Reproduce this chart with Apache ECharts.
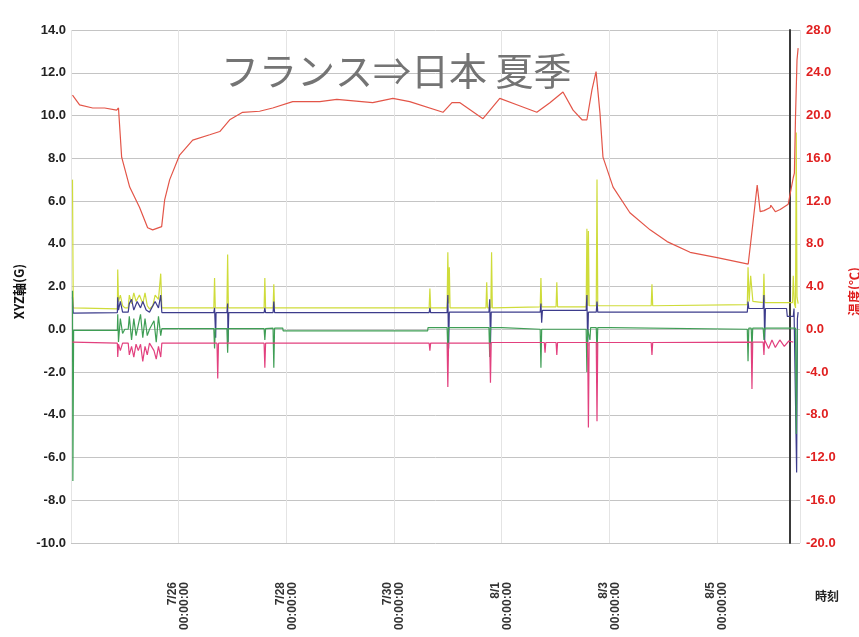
<!DOCTYPE html>
<html><head><meta charset="utf-8">
<script src="https://cdn.jsdelivr.net/npm/echarts@6/dist/echarts.min.js"></script>
<style>html,body{margin:0;padding:0;background:#fff}#c{width:859px;height:637px}</style>
</head><body><div id="c"></div>
<script>
// ---- data (time 'MM-DD HH:mm', value) ----
const titleText = 'フランス⇒日本 夏季';
const leftAxisName = 'XYZ軸(G)';
const rightAxisName = '温度(℃)';
const xAxisName = '時刻';
const xStart = '07-24 00:00', xEnd = '08-06 13:00';

const tempData = [
 ['07-24 00:40',21.9],['07-24 03:50',21.0],['07-24 09:40',20.7],['07-24 15:00',20.7],['07-24 20:20',20.5],
 ['07-24 21:10',20.7],['07-24 22:35',16.1],['07-25 02:10',13.3],['07-25 06:35',11.4],['07-25 10:10',9.5],
 ['07-25 12:25',9.3],['07-25 16:25',9.6],['07-25 17:45',12.1],['07-25 20:00',14.0],['07-26 00:25',16.3],
 ['07-26 06:15',17.7],['07-26 13:50',18.2],['07-26 18:20',18.5],['07-26 22:45',19.6],['07-27 04:30',20.3],
 ['07-27 12:05',20.4],['07-27 17:55',20.7],['07-28 02:50',21.3],['07-28 14:55',21.3],['07-28 22:30',21.5],
 ['07-29 14:30',21.2],['07-29 23:30',21.6],['07-30 07:00',21.3],['07-30 21:50',20.3],['07-31 01:50',21.2],
 ['07-31 05:25',21.2],['07-31 15:40',19.7],['07-31 23:10',21.6],['08-01 06:45',21.0],['08-01 15:40',20.3],
 ['08-01 21:30',21.2],['08-02 03:20',22.2],['08-02 07:50',20.5],['08-02 11:50',19.6],['08-02 14:00',19.6],
 ['08-02 16:15',22.4],['08-02 18:05',24.1],['08-02 19:50',20.2],['08-02 21:10',16.1],['08-03 01:40',13.3],
 ['08-03 09:10',10.9],['08-03 18:10',9.3],['08-04 01:45',8.2],['08-04 12:00',7.2],['08-05 00:05',6.7],
 ['08-05 13:55',6.1],['08-05 15:40',9.3],['08-05 17:55',13.5],['08-05 19:15',11.0],['08-05 21:00',11.1],
 ['08-05 23:45',11.4],['08-06 00:00',11.6],['08-06 02:00',11.0],['08-06 04:10',11.2],['08-06 07:45',11.7],
 ['08-06 10:00',14.2],['08-06 10:30',14.6],['08-06 11:00',19.9],['08-06 11:40',25.2],['08-06 12:10',26.3]
];

const yellowData = [
 ['07-24 00:40',7.0],['07-24 01:00',1.0],['07-24 20:40',0.95],['07-24 20:50',2.8],['07-24 21:10',1.3],
 ['07-24 22:00',1.6],['07-24 23:00',1.1],['07-25 00:00',1.0],['07-25 01:30',1.0],['07-25 02:00',1.6],
 ['07-25 03:00',1.2],['07-25 04:00',1.7],['07-25 05:00',1.3],['07-25 06:30',1.6],['07-25 08:00',1.2],
 ['07-25 09:00',1.7],['07-25 10:00',1.1],['07-25 11:00',0.95],['07-25 12:30',1.1],['07-25 13:30',1.6],
 ['07-25 15:00',1.4],['07-25 16:00',2.6],['07-25 16:30',1.0],['07-26 15:40',1.0],['07-26 16:00',2.4],
 ['07-26 16:20',1.0],['07-26 21:30',1.0],['07-26 21:50',3.5],['07-26 22:10',1.0],['07-27 14:05',1.0],
 ['07-27 14:25',2.4],['07-27 14:45',1.0],['07-27 18:05',1.0],['07-27 18:25',2.1],['07-27 18:45',1.0],
 ['07-30 15:40',1.0],['07-30 16:00',1.9],['07-30 16:20',1.0],['07-30 23:40',1.0],['07-31 00:00',3.6],
 ['07-31 00:20',1.2],['07-31 00:40',2.9],['07-31 01:00',1.0],['07-31 17:00',1.0],['07-31 17:20',2.2],
 ['07-31 17:40',1.0],['07-31 19:10',1.0],['07-31 19:30',3.6],['07-31 19:50',1.0],['08-01 17:10',1.05],
 ['08-01 17:30',2.4],['08-01 17:50',1.05],['08-02 00:15',1.05],['08-02 00:35',2.2],['08-02 00:55',1.05],
 ['08-02 13:40',1.05],['08-02 14:00',4.7],['08-02 14:20',1.1],['08-02 14:40',4.6],['08-02 15:00',1.1],
 ['08-02 18:10',1.1],['08-02 18:30',7.0],['08-02 18:50',1.1],['08-03 18:40',1.1],['08-03 19:00',2.1],
 ['08-03 19:20',1.1],['08-05 13:30',1.15],['08-05 13:50',2.9],['08-05 14:20',1.3],['08-05 15:00',2.5],
 ['08-05 16:00',1.3],['08-05 20:35',1.25],['08-05 20:55',2.6],['08-05 21:15',1.25],['08-06 09:40',1.25],
 ['08-06 10:00',2.5],['08-06 10:30',1.2],['08-06 11:00',1.0],['08-06 11:20',9.2],['08-06 11:40',1.5],
 ['08-06 12:10',1.2]
];

const navyData = [
 ['07-24 00:40',1.5],['07-24 01:00',0.75],['07-24 20:40',0.78],['07-24 20:50',1.5],['07-24 21:10',0.9],
 ['07-24 22:00',1.3],['07-24 23:00',0.8],['07-25 01:30',0.8],['07-25 02:00',1.2],['07-25 03:00',1.4],
 ['07-25 04:00',0.9],['07-25 05:30',1.3],['07-25 07:00',1.0],['07-25 08:00',1.3],['07-25 09:30',0.9],
 ['07-25 11:00',0.8],['07-25 13:30',1.3],['07-25 15:00',1.0],['07-25 16:00',1.6],['07-25 16:30',0.78],
 ['07-26 15:40',0.78],['07-26 16:00',1.0],['07-26 16:30',-0.4],['07-26 16:40',0.78],['07-26 21:30',0.78],
 ['07-26 21:50',1.2],['07-26 22:00',-0.6],['07-26 22:20',0.78],['07-27 14:05',0.78],['07-27 14:25',1.0],
 ['07-27 14:45',0.78],['07-27 18:05',0.78],['07-27 18:25',1.3],['07-27 18:45',0.78],['07-30 15:40',0.78],
 ['07-30 16:00',1.0],['07-30 16:20',0.78],['07-30 23:40',0.78],['07-31 00:00',1.6],['07-31 00:20',-0.9],
 ['07-31 00:40',0.8],['07-31 18:20',0.8],['07-31 18:40',1.4],['07-31 19:00',-0.7],['07-31 19:20',0.8],
 ['08-01 17:10',0.8],['08-01 17:30',1.2],['08-01 17:50',0.3],['08-01 18:10',0.88],['08-02 13:40',0.88],
 ['08-02 14:00',1.6],['08-02 14:20',-0.8],['08-02 14:40',0.8],['08-02 18:10',0.8],['08-02 18:30',1.3],
 ['08-02 18:50',0.8],['08-05 13:30',0.8],['08-05 13:50',1.3],['08-05 14:10',0.97],['08-05 20:35',0.97],
 ['08-05 20:55',1.6],['08-05 21:15',-0.5],['08-05 21:35',0.97],['08-06 07:00',0.97],['08-06 07:20',0.6],
 ['08-06 10:00',0.6],['08-06 10:20',0.97],['08-06 11:10',0.9],['08-06 11:30',-6.7],['08-06 11:50',0.5],
 ['08-06 12:10',0.8]
];

const greenData = [
 ['07-24 00:40',1.8],['07-24 00:50',-7.1],['07-24 01:10',-0.05],['07-24 20:40',-0.05],['07-24 20:50',0.7],
 ['07-24 21:10',-0.6],['07-24 22:00',0.5],['07-24 23:00',-0.2],['07-25 00:00',0.0],['07-25 01:30',0.0],
 ['07-25 02:00',0.6],['07-25 03:00',-0.5],['07-25 04:00',0.5],['07-25 05:00',-0.3],['07-25 06:00',0.2],
 ['07-25 07:00',0.7],['07-25 08:00',-0.4],['07-25 09:00',0.5],['07-25 10:00',-0.3],['07-25 11:00',0.0],
 ['07-25 13:00',0.4],['07-25 14:00',-0.6],['07-25 15:00',0.6],['07-25 16:00',-0.3],['07-25 16:30',0.03],
 ['07-26 15:40',0.03],['07-26 16:00',-0.9],['07-26 16:20',0.03],['07-26 21:30',0.03],['07-26 21:50',-1.1],
 ['07-26 22:10',0.03],['07-27 14:05',0.03],['07-27 14:25',-0.5],['07-27 14:45',0.03],['07-27 18:05',0.05],
 ['07-27 18:25',-1.8],['07-27 18:45',0.05],['07-27 22:25',0.05],['07-27 22:35',-0.08],['07-30 15:00',-0.08],
 ['07-30 15:10',0.08],['07-30 23:40',0.08],['07-31 00:00',-1.0],['07-31 00:20',0.08],['07-31 18:20',0.08],
 ['07-31 18:40',-1.3],['07-31 19:00',0.08],['08-01 00:00',0.08],['08-01 00:10',0.0],['08-01 17:10',0.0],
 ['08-01 17:30',-1.8],['08-01 17:50',0.0],['08-02 13:40',0.0],['08-02 14:00',-2.0],['08-02 14:20',0.0],
 ['08-02 15:20',-0.5],['08-02 15:40',0.08],['08-02 18:10',0.08],['08-02 18:30',-1.2],['08-02 18:50',0.08],
 ['08-03 00:00',0.08],['08-03 00:10',0.0],['08-05 13:30',0.0],['08-05 13:50',-1.5],['08-05 14:10',0.05],
 ['08-05 15:15',0.05],['08-05 15:35',-1.0],['08-05 15:55',0.05],['08-05 20:35',0.05],['08-05 20:55',-0.5],
 ['08-05 21:15',0.05],['08-06 11:00',0.05],['08-06 11:20',-4.9],['08-06 11:50',0.0],['08-06 12:10',0.0]
];

const magentaData = [
 ['07-24 00:40',-0.6],['07-24 20:40',-0.65],['07-24 20:50',-1.3],['07-24 21:10',-0.7],['07-24 22:00',-1.0],
 ['07-24 23:00',-0.65],['07-25 01:30',-0.65],['07-25 02:00',-1.2],['07-25 03:00',-0.8],['07-25 04:00',-1.3],
 ['07-25 05:00',-0.7],['07-25 06:00',-1.0],['07-25 07:00',-0.7],['07-25 08:00',-1.5],['07-25 09:00',-0.8],
 ['07-25 10:00',-1.2],['07-25 11:00',-0.65],['07-25 13:00',-1.0],['07-25 14:00',-1.4],['07-25 15:00',-0.8],
 ['07-25 16:00',-1.3],['07-25 16:30',-0.65],['07-26 17:05',-0.65],['07-26 17:25',-2.3],['07-26 17:45',-0.65],
 ['07-27 14:05',-0.65],['07-27 14:25',-1.8],['07-27 14:45',-0.65],['07-30 15:40',-0.65],['07-30 16:00',-1.0],
 ['07-30 16:20',-0.65],['07-30 23:40',-0.65],['07-31 00:00',-2.7],['07-31 00:20',-0.65],['07-31 18:40',-0.65],
 ['07-31 19:00',-2.5],['07-31 19:20',-0.62],['08-01 19:00',-0.62],['08-01 19:20',-1.1],['08-01 19:40',-0.62],
 ['08-02 00:15',-0.62],['08-02 00:35',-1.2],['08-02 00:55',-0.62],['08-02 14:20',-0.62],['08-02 14:40',-4.6],
 ['08-02 15:00',-0.62],['08-02 18:10',-0.62],['08-02 18:30',-4.3],['08-02 18:50',-0.62],['08-03 18:40',-0.62],
 ['08-03 19:00',-1.2],['08-03 19:20',-0.62],['08-05 15:15',-0.6],['08-05 15:35',-2.8],['08-05 15:55',-0.6],
 ['08-05 20:35',-0.6],['08-05 20:55',-1.2],['08-05 21:15',-0.5],['08-05 23:00',-0.9],['08-06 00:30',-0.5],
 ['08-06 02:00',-0.85],['08-06 04:00',-0.5],['08-06 06:00',-0.8],['08-06 08:00',-0.55],['08-06 10:00',-0.6]
];

// ---- helpers ----
function t(s){const m=s.match(/(\d+)-(\d+) (\d+):(\d+)/);return Date.UTC(2016,+m[1]-1,+m[2],+m[3],+m[4]);}
const conv = arr => arr.map(p => [t(p[0]), p[1]]);
const DAY = 86400000;

const chart = echarts.init(document.getElementById('c'), null, {renderer:'canvas'});
const lineBase = {type:'line', showSymbol:false, symbol:'none', animation:false};
chart.setOption({
  backgroundColor:'#ffffff',
  animation:false,
  title:[
    {text:titleText, left:216, top:47, textStyle:{fontFamily:'Noto Sans CJK JP', fontSize:38, fontWeight:'normal', color:'#747474'}},
    {text:xAxisName, left:810, top:585, textStyle:{fontFamily:'Noto Sans CJK JP', fontSize:12, fontWeight:'bold', color:'#222'}}
  ],
  grid:{left:71, right:59, top:30, bottom:94, containLabel:false, outerBoundsMode:'none'},
  xAxis:{
    type:'value', min:t(xStart), max:t(xEnd), interval:2*DAY,
    axisLine:{show:false},
    axisTick:{show:true, length:22, lineStyle:{color:'#e2e2e2'}},
    splitLine:{show:true, lineStyle:{color:'#e4e4e4', width:1}},
    axisLabel:{
      rotate:90, margin:39, fontSize:12, fontWeight:'bold', color:'#333', lineHeight:12,
      fontFamily:'Liberation Sans', showMinLabel:false, showMaxLabel:false,
      formatter:v=>{const d=new Date(v);return (d.getUTCMonth()+1)+'/'+d.getUTCDate()+'\n00:00:00';}
    }
  },
  yAxis:[
    {type:'value', min:-10, max:14, interval:2, position:'left',
     name:leftAxisName, nameLocation:'middle', nameGap:44, nameRotate:90,
     nameTextStyle:{fontFamily:'Noto Sans CJK JP', fontSize:13, fontWeight:'bold', color:'#111', padding:[0,10,0,0]},
     axisLine:{show:false}, axisTick:{show:false},
     axisLabel:{formatter:v=>v.toFixed(1), fontSize:13, fontWeight:'bold', color:'#222', margin:5, fontFamily:'Liberation Sans'},
     splitLine:{lineStyle:{color:'#c4c4c4', width:1}}
    },
    {type:'value', min:-20, max:28, interval:4, position:'right', offset:-10,
     name:rightAxisName, nameLocation:'middle', nameGap:58, nameRotate:90,
     nameTextStyle:{fontFamily:'Noto Sans CJK JP', fontSize:13, fontWeight:'bold', color:'#e02020', padding:[0,10,0,0]},
     axisLine:{show:true, lineStyle:{color:'#3a3a3a', width:2}}, axisTick:{show:false},
     axisLabel:{formatter:v=>v.toFixed(1), fontSize:13, fontWeight:'bold', color:'#e02020', margin:16, fontFamily:'Liberation Sans'},
     splitLine:{show:false}
    }
  ],
  series:[
    Object.assign({}, lineBase, {name:'Y', yAxisIndex:0, data:conv(yellowData), lineStyle:{color:'#cfdc3a', width:1.2}, z:2}),
    Object.assign({}, lineBase, {name:'Z', yAxisIndex:0, data:conv(navyData), lineStyle:{color:'#3d3c8c', width:1.2}, z:3}),
    Object.assign({}, lineBase, {name:'X', yAxisIndex:0, data:conv(greenData), lineStyle:{color:'#3f9e55', width:1.2}, z:4}),
    Object.assign({}, lineBase, {name:'M', yAxisIndex:0, data:conv(magentaData), lineStyle:{color:'#e2407e', width:1.2}, z:5}),
    Object.assign({}, lineBase, {name:'温度', yAxisIndex:1, data:conv(tempData), lineStyle:{color:'#e35548', width:1.2}, z:6})
  ]
});
</script></body></html>
